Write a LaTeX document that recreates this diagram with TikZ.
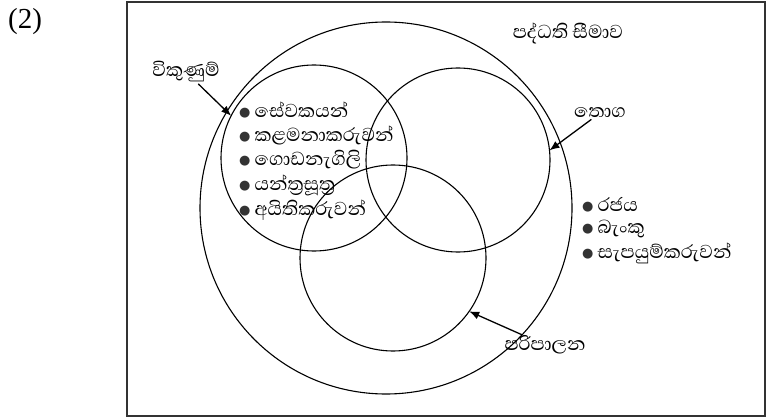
\documentclass[tikz,border=0pt]{standalone}
\usepackage{fontspec}
\setmainfont{Liberation Serif}
\newfontfamily\sinhala[Script=Sinhala]{Abhaya Libre}
\newfontfamily\simboli{DejaVu Sans}
\usetikzlibrary{arrows.meta}
\tikzset{
  ring/.style={draw, circle, line width=1.1pt, inner sep=0pt, outer sep=0pt},
  lbl/.style={font=\sinhala\fontsize{24}{24}\selectfont, inner sep=0pt},
  voce/.style={lbl, anchor=west},
  punta/.style={line width=1.3pt, -{Latex[length=10pt,width=8pt]}, shorten <=2pt},
}
\newcommand{\pallino}{\raisebox{1pt}{\simboli\fontsize{13}{13}\selectfont\color{black!80}●}\,}
\begin{document}
\begin{tikzpicture}[x=1pt,y=1pt]
\useasboundingbox (0,0) rectangle (770,418);
%disegno cornice
\draw[line width=1.2pt, black!80] (127,2) rectangle (765,416);
\node[font=\fontsize{29}{29}\selectfont] (num) at (25,396) {(2)};
%disegno cerchi
\node[ring, minimum size=372pt] (sistema) at (386,210) {};
\node[ring, minimum size=186pt] (vendite) at (314,260) {};
\node[ring, minimum size=184pt] (scorte) at (458,258) {};
\node[ring, minimum size=186pt] (admin) at (393,160) {};
%etichette
\node[lbl] (limite) at (568,385) {පද්ධති සීමාව};
\node[lbl] (vendLbl) at (186,346) {විකුණුම්};
\node[lbl] (scorLbl) at (600,305) {තොග};
\node[lbl] (admLbl) at (545,73) {පරිපාලන};
%frecce
\draw[punta] (vendLbl) -- (vendite.153);
\draw[punta] (scorLbl) -- (scorte.6);
\draw[punta] (admLbl) -- (admin.-35);
%elenchi
\foreach \nome [count=\i] in {සේවකයන්, කළමනාකරුවන්, ගොඩනැගිලි, යන්ත්^^^^200dරසූත්^^^^200dර, අයිතිකරුවන්}
  \node[voce] (int\i) at (239,333-25*\i) {\pallino\nome};
\foreach \nome [count=\i] in {රජය, බැංකු, සැපයුම්කරුවන්}
  \node[voce] (est\i) at (582,237-24*\i) {\pallino\nome};
\end{tikzpicture}
\end{document}
